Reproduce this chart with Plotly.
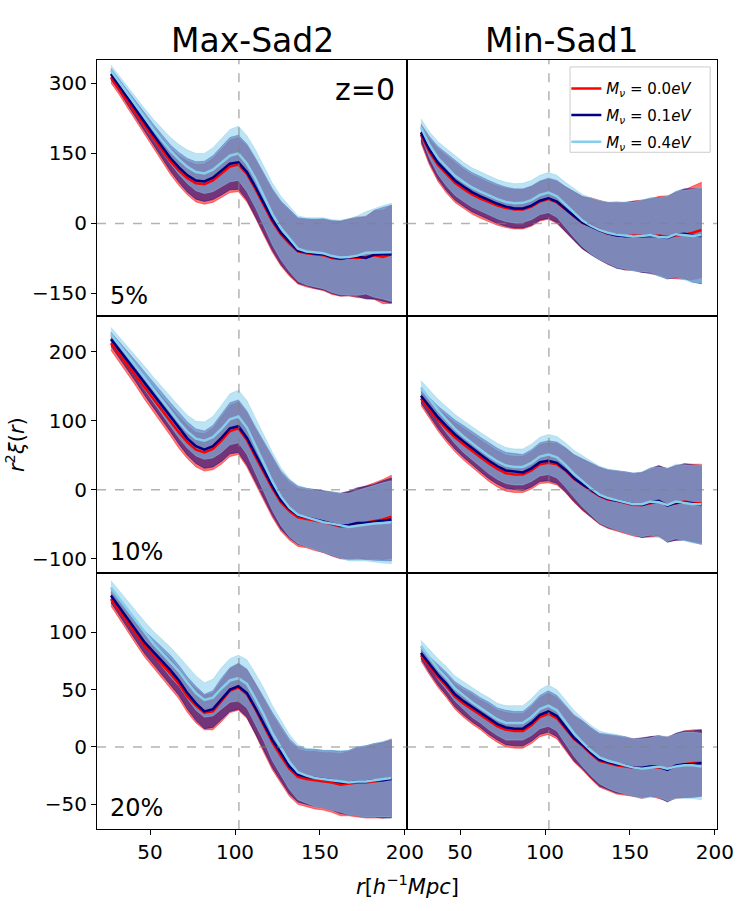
import plotly.graph_objects as go
from plotly.subplots import make_subplots

##################################################
# separation bins r [h^-1 Mpc]
r_bins = [27, 32, 37, 42, 47, 52, 57, 62, 67, 72, 77, 82, 87, 92, 97, 102, 107,
          112, 117, 122, 127, 132, 137, 142, 147, 152, 157, 162, 167, 172, 177,
          182, 187, 192]

# Max-Sad2, 5%
maxsad_5_m00 = [313, 288, 261, 235, 208, 183, 158, 133, 113, 97, 86, 84, 92, 107, 122, 126, 106, 74, 38, 4, -23, -43, -60, -64, -66, -68, -74, -76, -73, -74, -72, -68, -72, -66]
maxsad_5_m01 = [320, 295, 268, 242, 215, 190, 165, 140, 120, 103, 92, 90, 98, 113, 128, 131, 110, 78, 42, 8, -20, -40, -58, -62, -65, -66, -72, -75, -73, -71, -74, -67, -66, -66]
maxsad_5_m04 = [327, 302, 276, 250, 225, 201, 178, 156, 137, 121, 110, 107, 115, 130, 145, 150, 128, 96, 58, 20, -10, -33, -54, -60, -62, -64, -70, -73, -72, -69, -63, -63, -62, -62]
maxsad_5_err = [12, 13, 15, 17, 20, 22, 25, 28, 32, 36, 40, 43, 47, 52, 56, 58, 60, 62, 64, 66, 68, 70, 70, 72, 74, 76, 78, 80, 82, 85, 88, 95, 100, 105]

# Min-Sad1, 5%
minsad_5_m00 = [190, 153, 125, 105, 87, 74, 62, 53, 45, 38, 33, 30, 30, 36, 47, 52, 45, 30, 15, 1, -5, -14, -22, -24, -28, -26, -27, -28, -26, -29, -26, -24, -20, -14]
minsad_5_m01 = [195, 158, 130, 110, 92, 79, 67, 58, 50, 42, 36, 32, 32, 38, 49, 54, 47, 31, 16, 2, -7, -15, -21, -26, -27, -27, -28, -26, -28, -31, -24, -22, -26, -27]
minsad_5_m04 = [206, 168, 140, 120, 102, 89, 77, 68, 60, 52, 46, 43, 44, 50, 61, 66, 58, 40, 22, 6, -5, -14, -20, -24, -26, -28, -27, -25, -29, -30, -23, -25, -27, -25]
minsad_5_err = [18, 28, 35, 40, 42, 42, 42, 42, 42, 42, 42, 42, 42, 42, 42, 43, 45, 48, 52, 56, 60, 63, 66, 70, 72, 74, 77, 80, 84, 88, 92, 96, 100, 102]

# Max-Sad2, 10%
maxsad_10_m00 = [212, 196, 180, 164, 147, 131, 115, 99, 83, 69, 58, 54, 59, 71, 85, 89, 72, 48, 25, 2, -18, -31, -40, -42, -45, -47, -50, -53, -52, -50, -48, -45, -43, -39]
maxsad_10_m01 = [218, 202, 186, 170, 153, 137, 121, 105, 89, 74, 63, 58, 63, 75, 89, 92, 75, 51, 28, 5, -15, -28, -37, -40, -43, -46, -49, -52, -51, -48, -48, -47, -45, -43]
maxsad_10_m04 = [225, 209, 193, 177, 161, 145, 129, 113, 98, 84, 74, 71, 76, 88, 102, 106, 90, 64, 38, 12, -10, -26, -36, -40, -44, -47, -49, -52, -54, -52, -50, -49, -48, -47]
maxsad_10_err = [10, 12, 13, 15, 17, 18, 20, 21, 23, 24, 25, 27, 30, 34, 37, 38, 39, 40, 41, 42, 42, 42, 42, 42, 43, 44, 46, 47, 49, 51, 53, 55, 58, 60]

# Min-Sad1, 10%
minsad_10_m00 = [132, 116, 101, 88, 76, 66, 56, 47, 38, 30, 24, 22, 22, 28, 37, 39, 37, 28, 16, 7, -1, -9, -14, -16, -19, -22, -22, -20, -17, -22, -19, -17, -19, -20]
minsad_10_m01 = [136, 120, 105, 92, 80, 70, 60, 51, 42, 34, 28, 26, 25, 31, 40, 42, 39, 29, 17, 8, 0, -8, -13, -15, -18, -21, -22, -18, -16, -23, -19, -18, -20, -22]
minsad_10_m04 = [148, 131, 115, 101, 88, 77, 67, 58, 49, 41, 35, 33, 33, 39, 48, 51, 47, 36, 23, 12, 2, -7, -12, -15, -18, -21, -21, -17, -18, -22, -17, -19, -21, -21]
minsad_10_err = [10, 13, 16, 19, 21, 23, 24, 25, 26, 26, 26, 26, 26, 27, 28, 29, 30, 32, 34, 37, 39, 41, 42, 43, 44, 45, 47, 49, 51, 53, 54, 55, 56, 57]

# Max-Sad2, 20%
maxsad_20_m00 = [129, 119, 108, 98, 88, 80, 72, 64, 55, 44, 36, 30, 31, 40, 49, 52, 46, 33, 18, 4, -8, -19, -26, -28, -29, -30, -31, -33, -32, -31, -31, -30, -29, -27]
maxsad_20_m01 = [132, 122, 111, 101, 91, 83, 75, 67, 58, 47, 38, 31, 33, 42, 50, 53, 47, 34, 20, 6, -5, -17, -24, -26, -27, -28, -29, -31, -31, -30, -30, -29, -29, -28]
maxsad_20_m04 = [139, 129, 119, 109, 99, 90, 82, 74, 66, 56, 47, 41, 43, 51, 58, 60, 55, 42, 28, 12, 0, -13, -22, -25, -27, -28, -29, -30, -31, -30, -30, -29, -28, -27]
maxsad_20_err = [6, 7, 8, 9, 10, 11, 12, 13, 13, 14, 15, 15, 16, 18, 19, 20, 21, 22, 23, 24, 24, 24, 24, 24, 25, 25, 26, 27, 28, 30, 31, 32, 33, 34]

# Min-Sad1, 20%
minsad_20_m00 = [80, 70, 61, 53, 44, 38, 33, 28, 23, 18, 15, 14, 14, 19, 26, 29, 25, 16, 7, 1, -6, -12, -14, -16, -17, -18, -19, -17, -18, -19, -17, -15, -14, -14]
minsad_20_m01 = [82, 72, 63, 55, 46, 40, 35, 30, 25, 20, 17, 16, 16, 21, 28, 31, 27, 17, 8, 2, -5, -11, -13, -15, -16, -18, -18, -17, -17, -20, -16, -15, -15, -14]
minsad_20_m04 = [88, 78, 68, 60, 51, 45, 39, 34, 29, 24, 21, 21, 21, 26, 33, 36, 32, 22, 12, 4, -3, -9, -12, -14, -16, -18, -19, -18, -17, -19, -17, -16, -16, -17]
minsad_20_err = [5, 7, 9, 10, 11, 12, 13, 13, 14, 14, 15, 15, 15, 16, 17, 18, 18, 19, 20, 21, 22, 23, 24, 25, 25, 25, 26, 26, 27, 28, 28, 29, 29, 29]

mnu_labels = ["0.0", "0.1", "0.4"]
mnu_colors = ["#ff0000", "#000080", "#87ceeb"]
mnu_fills = ["rgba(255,0,0,0.55)", "rgba(0,0,128,0.55)", "rgba(135,206,235,0.55)"]
col_titles = ["Max-Sad2", "Min-Sad1"]
row_labels = ["5%", "10%", "20%"]
bao_r = 102.3

y_ranges = [[-199, 350], [-120, 251], [-71.5, 152]]
y_ticks = [[-150, 0, 150, 300], [-100, 0, 100, 200], [-50, 0, 50, 100]]
x_ticks = [50, 100, 150, 200]

panels = [
    [(maxsad_5_m00, maxsad_5_m01, maxsad_5_m04, maxsad_5_err),
     (minsad_5_m00, minsad_5_m01, minsad_5_m04, minsad_5_err)],
    [(maxsad_10_m00, maxsad_10_m01, maxsad_10_m04, maxsad_10_err),
     (minsad_10_m00, minsad_10_m01, minsad_10_m04, minsad_10_err)],
    [(maxsad_20_m00, maxsad_20_m01, maxsad_20_m04, maxsad_20_err),
     (minsad_20_m00, minsad_20_m01, minsad_20_m04, minsad_20_err)],
]

# one legend per entry so the rows can be spaced like matplotlib's legend
leg_names = ["legend", "legend2", "legend3"]
leg_y = [0.9627, 0.9280, 0.8934]

##################################################
fig = make_subplots(rows=3, cols=2, horizontal_spacing=0, vertical_spacing=0)

for i in range(3):
    for j in range(2):
        *means, err = panels[i][j]
        # bands first
        for k in range(3):
            up = [m + e for m, e in zip(means[k], err)]
            lo = [m - e for m, e in zip(means[k], err)]
            fig.add_trace(go.Scatter(
                x=r_bins + r_bins[::-1], y=up + lo[::-1], fill="toself",
                fillcolor=mnu_fills[k], mode="lines",
                line=dict(color=mnu_fills[k], width=0.8),
                showlegend=False, hoverinfo="skip"), row=i+1, col=j+1)
        # mean lines on top
        for k in range(3):
            fig.add_trace(go.Scatter(
                x=r_bins, y=means[k], mode="lines",
                line=dict(color=mnu_colors[k], width=2.5),
                name=f"<i>M</i><sub><i>ν</i></sub><i> = </i>{mnu_labels[k]}<i>eV</i>",
                legend=leg_names[k],
                showlegend=(i == 0 and j == 0)), row=i+1, col=j+1)
        fig.add_hline(y=0, line=dict(color="rgba(128,128,128,0.6)", width=1.5, dash="dash"),
                      layer="above", row=i+1, col=j+1)
        fig.add_vline(x=bao_r, line=dict(color="rgba(128,128,128,0.6)", width=1.5, dash="dash"),
                      layer="above", row=i+1, col=j+1)

        fig.update_xaxes(range=[18.8, 201.2], tickvals=x_ticks,
                         showticklabels=(i == 2), ticks="outside" if i == 2 else "",
                         ticklen=5, tickcolor="black",
                         showline=True, mirror=True, linecolor="black", linewidth=1,
                         showgrid=False, zeroline=False, row=i+1, col=j+1)
        fig.update_yaxes(range=y_ranges[i], tickvals=y_ticks[i],
                         ticktext=[str(v).replace("-", "\u2212") for v in y_ticks[i]],
                         showticklabels=(j == 0), ticks="outside" if j == 0 else "",
                         ticklen=5, tickcolor="black",
                         showline=True, mirror=True, linecolor="black", linewidth=1,
                         showgrid=False, zeroline=False, row=i+1, col=j+1)

# legend frame
fig.add_shape(type="rect", xref="paper", yref="paper", x0=0.763, x1=0.989, y0=0.880, y1=0.991,
              line=dict(color="#cccccc", width=1), fillcolor="rgba(255,255,255,0.8)", layer="above")

##################################################
annots = []
for j in range(2):
    annots.append(dict(text=col_titles[j], x=0.25 + 0.5*j, y=1.026, xref="paper", yref="paper",
                       showarrow=False, font=dict(size=33), xanchor="center", yanchor="middle"))
for i in range(3):
    ax = ["", "3", "5"][i]
    annots.append(dict(text=row_labels[i], x=0.035, y=0.08, xref=f"x{ax} domain", yref=f"y{ax} domain",
                       showarrow=False, font=dict(size=24), xanchor="left", yanchor="middle"))
annots.append(dict(text="z=0", x=0.968, y=0.883, xref="x domain", yref="y domain",
                   showarrow=False, font=dict(size=30), xanchor="right", yanchor="middle"))
annots.append(dict(text="<i>r</i><sup>2</sup><i>ξ</i>(<i>r</i>)", x=-0.133, y=0.5,
                   xref="paper", yref="paper", textangle=-90, showarrow=False,
                   font=dict(size=21), xanchor="center", yanchor="middle"))
annots.append(dict(text="<i>r</i>[<i>h</i><sup>\u22121</sup><i>Mpc</i>]", x=0.5, y=-0.073,
                   xref="paper", yref="paper", showarrow=False,
                   font=dict(size=21), xanchor="center", yanchor="middle"))

leg_style = dict(x=0.757, xanchor="left", yanchor="middle", bgcolor="rgba(0,0,0,0)",
                 borderwidth=0, font=dict(size=15))

fig.update_layout(
    width=745, height=911,
    margin=dict(l=97, r=28, t=60, b=82),
    plot_bgcolor="white", paper_bgcolor="white",
    font=dict(family="DejaVu Sans", size=20, color="black"),
    annotations=annots,
    legend=dict(y=leg_y[0], **leg_style),
    legend2=dict(y=leg_y[1], **leg_style),
    legend3=dict(y=leg_y[2], **leg_style),
)

fig.write_html("out.html", config={"displayModeBar": False},
               post_script="document.body.style.margin='0px';")
